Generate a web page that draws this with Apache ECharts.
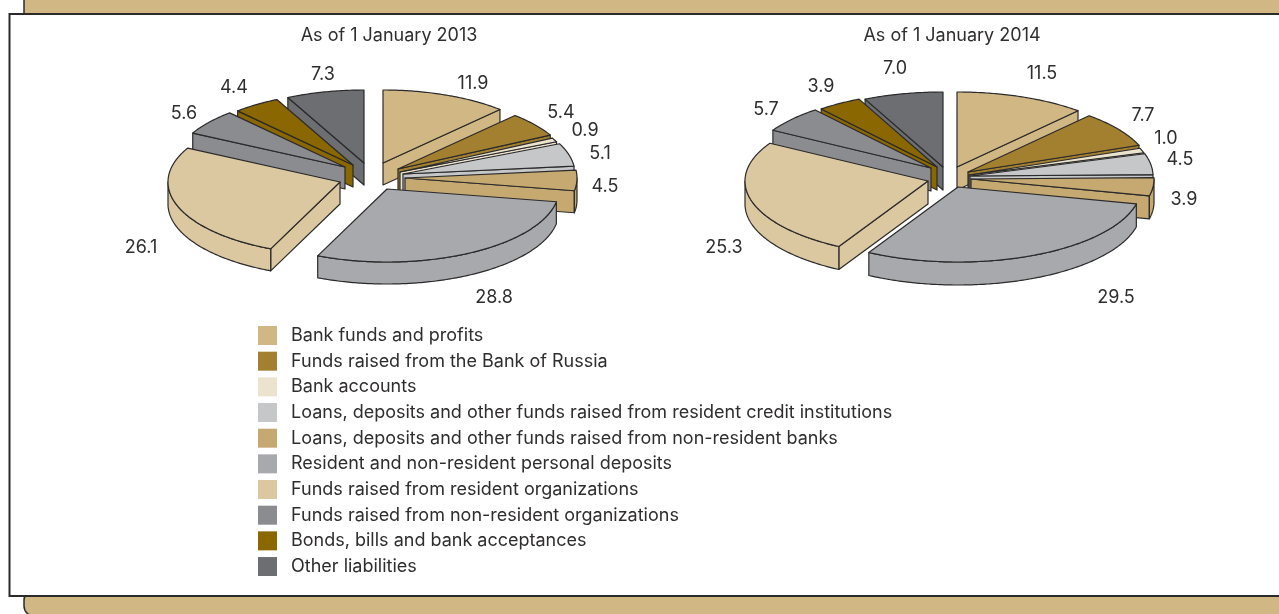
<!DOCTYPE html>
<html>
<head>
<meta charset="utf-8">
<style>html,body{margin:0;padding:0;background:#fff}#c{width:1279px;height:614px}</style>
<script src="https://cdn.jsdelivr.net/npm/echarts@6/dist/echarts.min.js"></script>
</head>
<body>
<div id="c"></div>
<script>
// ---- data ----
var categories = [
  'Bank funds and profits',
  'Funds raised from the Bank of Russia',
  'Bank accounts',
  'Loans, deposits and other funds raised from resident credit institutions',
  'Loans, deposits and other funds raised from non-resident banks',
  'Resident and non-resident personal deposits',
  'Funds raised from resident organizations',
  'Funds raised from non-resident organizations',
  'Bonds, bills and bank acceptances',
  'Other liabilities'
];
var values2013 = [11.9, 5.4, 0.9, 5.1, 4.5, 28.8, 26.1, 5.6, 4.4, 7.3];
var values2014 = [11.5, 7.7, 1.0, 4.5, 3.9, 29.5, 25.3, 5.7, 3.9, 7.0];
var pieTitles = ['As of 1 January 2013', 'As of 1 January 2014'];

// ---- style / layout ----
var colors = ['#D0B784','#A38030','#EBE3CD','#C6C7C9','#C5A971','#A7A9AC','#DCC8A0','#8A8C8F','#8A6700','#6D6E71'];
var drawOrder = [1,4,5,6,7,9,8,3,2,0]; // paint depth for each slice
var pieLayout = [
  {cx:375, cy:170, rx:172, squash:73/172, depth:22, tx:389},
  {cx:955, cy:172, rx:183, squash:75/183, depth:23, tx:952}
];
var explode2013 = [[8,-7],[23,-1],[25,2],[28,4],[30,8],[12,19],[-35,12],[-30,-3],[-22,-5],[-11,-7]];
var explode2014 = [[2,-5],[13,0],[14,3],[15,4],[16,7],[3,15],[-27,9],[-24,-4],[-18,-5],[-12,-5]];
var labels2013 = [[473,84],[561,113],[585,131],[600,154],[605,187],[494,298],[141,248],[184,114],[234,88],[323,75]];
var labels2014 = [[1042,74],[1143,116],[1166,139],[1180,160],[1184,200],[1116,298],[724,248],[766,110],[821,87],[895,69]];
var values = [values2013, values2014], explodes = [explode2013, explode2014], labelPos = [labels2013, labels2014];

var FONT = 'Inter, "Liberation Sans", Arial, sans-serif';
var INK = '#2b2a2b', TXT = '#2f2d2e', TAN = '#D0B784';

function renderSlice(pieIdx, sliceIdx) {
  return function (params, api) {
    var L = pieLayout[pieIdx], off = explodes[pieIdx][sliceIdx];
    var s = api.value(1), e = api.value(2), col = colors[sliceIdx];
    function pt(pct, down) {
      var c = api.coord([1, pct]);
      return [c[0] + off[0], L.cy + (c[1] - L.cy) * L.squash + off[1] + (down ? L.depth : 0)];
    }
    function arc(a, b, down) {
      var out = [];
      for (var p = a; p < b; p += 0.2) out.push(pt(p, down));
      out.push(pt(b, down));
      return out;
    }
    var apex = [L.cx + off[0], L.cy + off[1]];
    var apexD = [apex[0], apex[1] + L.depth];
    var st = {fill: col, stroke: INK, lineWidth: 1.2, lineJoin: 'round'};
    var kids = [];
    function poly(points) { kids.push({type: 'polygon', shape: {points: points}, style: st}); }
    if (s > 50) poly([apex, pt(s), pt(s, true), apexD]);
    if (e < 50) poly([apex, pt(e), pt(e, true), apexD]);
    var a = Math.max(s, 25), b = Math.min(e, 75);
    if (a < b) poly(arc(a, b).concat(arc(a, b, true).reverse()));
    poly([apex].concat(arc(s, e)));
    var lp = labelPos[pieIdx][sliceIdx];
    kids.push({type: 'text', style: {x: lp[0], y: lp[1], text: api.value(3).toFixed(1),
      fill: TXT, font: '18px ' + FONT, textAlign: 'center', textVerticalAlign: 'middle'}});
    return {type: 'group', children: kids};
  };
}

var series = [];
values.forEach(function (vals, pieIdx) {
  var cum = 0;
  vals.forEach(function (v, i) {
    series.push({
      type: 'custom', name: categories[i], coordinateSystem: 'polar', polarIndex: pieIdx,
      z: 2 + drawOrder[i] / 100, silent: true, clip: false,
      itemStyle: {color: colors[i]},
      encode: {radius: 0, angle: 1},
      data: [[1, cum, cum + v, v]],
      renderItem: renderSlice(pieIdx, i)
    });
    cum += v;
  });
});

var chart = echarts.init(document.getElementById('c'), null, {renderer: 'canvas'});
chart.setOption({
  animation: false,
  backgroundColor: '#fff',
  title: pieLayout.map(function (L, i) {
    return {text: pieTitles[i], left: L.tx, top: 27, padding: 0, textAlign: 'center',
      textStyle: {color: TXT, fontFamily: FONT, fontWeight: 'normal', fontSize: 18}};
  }),
  polar: pieLayout.map(function (L) { return {center: [L.cx, L.cy], radius: L.rx}; }),
  angleAxis: pieLayout.map(function (L, i) {
    return {polarIndex: i, min: 0, max: 100, startAngle: 90, clockwise: true, show: false};
  }),
  radiusAxis: pieLayout.map(function (L, i) {
    return {polarIndex: i, min: 0, max: 1, show: false};
  }),
  legend: {
    orient: 'vertical', left: 258, top: 326, padding: 0, itemWidth: 19, itemHeight: 19, itemGap: 6.67,
    icon: 'rect', selectedMode: false, data: categories,
    textStyle: {color: TXT, fontFamily: FONT, fontSize: 18, padding: [0, 0, 0, 9]}
  },
  graphic: [
    {type: 'rect', z: 0, shape: {x: 24, y: -10, width: 1300, height: 30}, style: {fill: TAN, stroke: INK, lineWidth: 1.5}},
    {type: 'rect', z: 0, shape: {x: 24, y: 590, width: 1300, height: 26, r: 10}, style: {fill: TAN, stroke: INK, lineWidth: 1.5}},
    {type: 'rect', z: 1, shape: {x: 9.5, y: 14, width: 1300, height: 582}, style: {fill: '#fff', stroke: INK, lineWidth: 2}}
  ],
  series: series
});
</script>
</body>
</html>
